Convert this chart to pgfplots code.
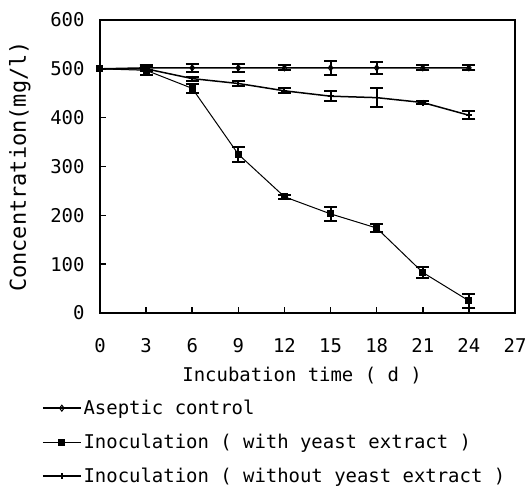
\documentclass[border=0pt]{standalone}
\usepackage{fontspec}
\setmainfont{DejaVu Sans Mono}
\usepackage{pgfplots}
\usepackage{pgfplotstable}
\pgfplotsset{compat=1.18}

% day, concentration (mg/l), error
\pgfplotstableread{
x  y   e
0  500 0
3  502 5
6  502 8
9  502 8
12 502 5
15 502 15
18 502 12
21 502 5
24 502 5
}\aseptic
\pgfplotstableread{
x  y   e
0  500 0
3  497 10
6  460 9
9  325 15
12 238 4
15 203 15
18 174 8
21 83  11
24 25  14
}\withyeast
\pgfplotstableread{
x  y   e
0  500 0
3  500 5
6  480 4
9  470 6
12 455 5
15 444 10
18 441 19
21 431 3
24 405 8
}\withoutyeast

\begin{document}
\begin{tikzpicture}
\useasboundingbox (-100bp,-175bp) rectangle (426bp,313bp);
\begin{axis}[
  width=415bp, height=293bp, scale only axis,
  xmin=0, xmax=27, ymin=0, ymax=600,
  xtick={0,3,...,27}, ytick={0,100,...,600},
  xtick pos=lower, ytick pos=left,
  tick align=inside, major tick length=6bp,
  tick style={black, line width=1.5bp},
  axis line style={line width=1.5bp},
  font=\fontsize{19}{22}\selectfont,
  /pgf/number format/assume math mode=true,
  xticklabel style={yshift=-22bp},
  yticklabel style={xshift=-12bp},
  xlabel={Incubation time ( d )},
  xlabel style={at={(axis description cs:0.487,-0.212)}, anchor=center},
  ylabel={Concentration(mg/l)},
  ylabel style={at={(axis description cs:-0.193,0.5)}, anchor=center,
    font=\fontsize{22}{24}\selectfont},
  legend style={at={(-0.14,-0.29)}, anchor=north west, draw=none, fill=none,
    row sep=14bp, inner sep=0pt},
  legend cell align=left,
  legend image code/.code={
    \draw[mark repeat=2,mark phase=2,#1] plot coordinates {(0bp,0bp) (19bp,0bp) (38bp,0bp)};},
  error bars/y dir=both, error bars/y explicit,
  error bars/error bar style={line width=2bp, black},
  error bars/error mark options={rotate=90, mark size=6.5bp, line width=2bp, black},
]
\addplot[black, line width=1.5bp, mark=diamond, mark size=3bp, mark options={fill=white, line width=1bp}]
  table[x=x, y=y, y error=e] {\aseptic};
\addlegendentry{Aseptic control}
\addplot[black, line width=1bp, mark=square*, mark size=3bp]
  table[x=x, y=y, y error=e] {\withyeast};
\addlegendentry{Inoculation ( with yeast extract )}
\addplot[black, line width=1.5bp, mark=+, mark size=3bp, mark options={line width=1.5bp}]
  table[x=x, y=y, y error=e] {\withoutyeast};
\addlegendentry{Inoculation ( without yeast extract )}
\end{axis}
\end{tikzpicture}
\end{document}
